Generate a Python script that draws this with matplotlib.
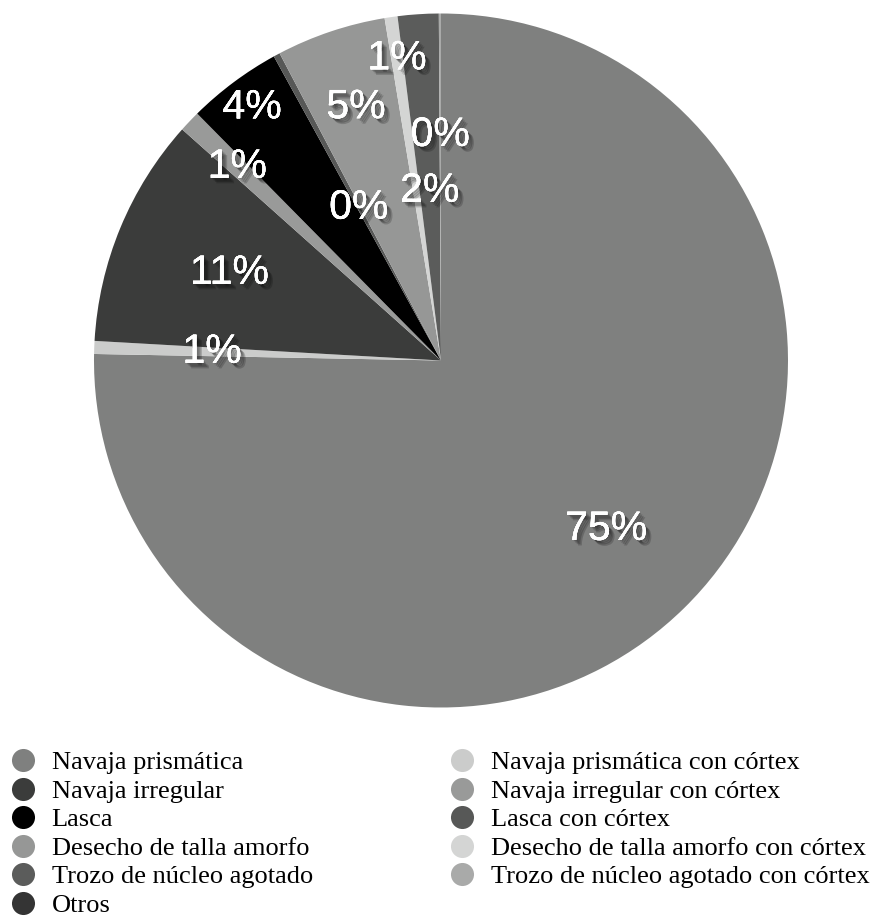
import numpy as np
import matplotlib.pyplot as plt
import matplotlib.patheffects as pe
from matplotlib.lines import Line2D

categorias = [
    "Navaja prismática",
    "Navaja prismática con córtex",
    "Navaja irregular",
    "Navaja irregular con córtex",
    "Lasca",
    "Lasca con córtex",
    "Desecho de talla amorfo",
    "Desecho de talla amorfo con córtex",
    "Trozo de núcleo agotado",
    "Trozo de núcleo agotado con córtex",
    "Otros",
]
porcentajes = [75.3, 0.6, 10.7, 1.0, 4.4, 0.3, 5.1, 0.6, 1.9, 0.1, 0.0]
colores = ["#7f807f", "#cbcccb", "#3b3c3b", "#999a99", "#000000", "#575857",
           "#969796", "#d4d5d4", "#5b5c5b", "#a9aaa9", "#343434"]
# distancia radial de cada etiqueta (fraccion del radio)
radio_etiqueta = [0.68, 0.66, 0.66, 0.81, 0.91, 0.50, 0.77, 0.88, 0.49, 0.65, 0.6]

W, H = 879, 918
fig = plt.figure(figsize=(W / 100, H / 100), dpi=100)

cx, cy, R = 441, 360.5, 347
ax = fig.add_axes([(cx - R) / W, (H - cy - R) / H, 2 * R / W, 2 * R / H])
wedges, _ = ax.pie(porcentajes, colors=colores, startangle=90, counterclock=False,
                   radius=1, wedgeprops=dict(linewidth=0))
ax.set_xlim(-1, 1)
ax.set_ylim(-1, 1)
ax.set_aspect("equal")
ax.axis("off")

# sombra difusa: varias copias desplazadas con poca opacidad
sombra = [pe.withSimplePatchShadow(offset=(d, -d), shadow_rgbFace="black", alpha=0.18)
          for d in (1.0, 2.0, 3.0, 4.0)] + [pe.Normal()]

total = sum(porcentajes)
for w, v, r in zip(wedges, porcentajes, radio_etiqueta):
    if v == 0:
        continue
    ang = np.deg2rad((w.theta1 + w.theta2) / 2)
    ax.text(r * np.cos(ang), r * np.sin(ang), f"{100 * v / total:.0f}%",
            ha="center", va="center", color="white", fontsize=29.5,
            family="Liberation Sans", path_effects=sombra)

# leyenda en dos columnas
def marcador(c):
    return Line2D([], [], linestyle="none", marker="o", markersize=16.6,
                  markerfacecolor=c, markeredgewidth=0)

estilo = dict(frameon=False, loc="upper left", borderpad=0, borderaxespad=0,
              handlelength=1.2, handletextpad=0.5, labelspacing=0.19,
              prop={"family": "Liberation Serif", "size": 19})
col1 = [0, 2, 4, 6, 8, 10]
col2 = [1, 3, 5, 7, 9]
fig.legend([marcador(colores[i]) for i in col1], [categorias[i] for i in col1],
           bbox_to_anchor=(6.7 / W, 1 - 751 / H), **estilo)
fig.legend([marcador(colores[i]) for i in col2], [categorias[i] for i in col2],
           bbox_to_anchor=(446 / W, 1 - 751 / H), **estilo)

fig.savefig("out.png", dpi=100)
